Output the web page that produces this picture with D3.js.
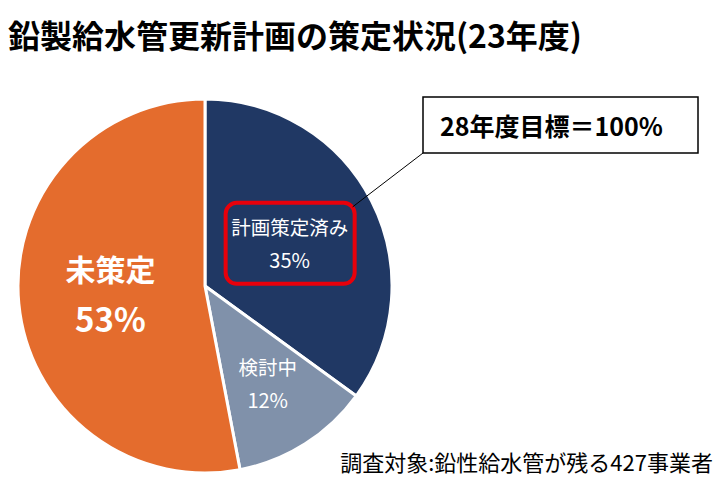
<!doctype html>
<html lang="ja">
<head>
<meta charset="utf-8" />
<title>鉛製給水管更新計画の策定状況</title>
<script src="https://cdn.jsdelivr.net/npm/d3@7"></script>
<style>
  body { margin: 0; background: #fff; }
  svg { display: block; font-family: "Noto Sans CJK JP", "Noto Sans", sans-serif; }
</style>
</head>
<body>
<script>
// data
var categories = ["計画策定済み", "検討中", "未策定"];
var shares = [35, 12, 53];
var sliceColors = ["#203864", "#8091aa", "#e46c2d"];
var titleText = "鉛製給水管更新計画の策定状況(23年度)";
var targetText = "28年度目標＝100%";
var noteText = "調査対象:鉛性給水管が残る427事業者";

var w = 724, h = 483;
var cx = 205, cy = 286, r = 187;

var svg = d3.select("body").append("svg")
  .attr("width", w)
  .attr("height", h);

svg.append("text")
  .attr("x", 8)
  .attr("y", 48)
  .attr("font-size", 32)
  .attr("font-weight", "bold")
  .attr("fill", "#000")
  .text(titleText);

var color = d3.scaleOrdinal().domain(categories).range(sliceColors);

var pie = d3.pie().sort(null).value(function(d) { return d.v; });
var rows = categories.map(function(c, i) { return { name: c, v: shares[i] }; });
var arcs = pie(rows);

var arc = d3.arc().innerRadius(0).outerRadius(r);

var g = svg.append("g").attr("transform", "translate(" + cx + "," + cy + ")");

g.selectAll("path.slice")
  .data(arcs)
  .enter()
  .append("path")
  .attr("class", "slice")
  .attr("d", arc)
  .attr("fill", function(d) { return color(d.data.name); })
  .attr("stroke", "#fff")
  .attr("stroke-width", 3)
  .attr("stroke-linejoin", "round");

// label radius per slice (small slice sits further out)
var labelR = [95, 117, 95];
function labelPos(d, i) {
  var a = (d.startAngle + d.endAngle) / 2;
  return [Math.sin(a) * labelR[i], -Math.cos(a) * labelR[i]];
}

var labels = g.selectAll("g.lbl")
  .data(arcs)
  .enter()
  .append("g")
  .attr("class", "lbl")
  .attr("transform", function(d, i) {
    var p = labelPos(d, i);
    return "translate(" + p[0] + "," + p[1] + ")";
  });

labels.append("text")
  .attr("text-anchor", "middle")
  .attr("fill", "#fff")
  .attr("font-size", function(d, i) { return i === 2 ? 30 : 19.5; })
  .attr("font-weight", function(d, i) { return i === 2 ? "bold" : "normal"; })
  .attr("y", function(d, i) { return i === 2 ? -14 : (i === 0 ? -8 : -10); })
  .text(function(d) { return d.data.name; });

labels.append("text")
  .attr("text-anchor", "middle")
  .attr("fill", "#fff")
  .attr("font-size", function(d, i) { return i === 2 ? 33 : 20; })
  .attr("font-weight", function(d, i) { return i === 2 ? "bold" : "normal"; })
  .attr("y", function(d, i) { return i === 2 ? 37 : (i === 0 ? 25 : 23); })
  .text(function(d) { return d.data.v + "%"; });

// highlight box around the planned slice label
var p0 = labelPos(arcs[0], 0);
g.append("rect")
  .attr("x", p0[0] - 64)
  .attr("y", p0[1] - 40)
  .attr("width", 129)
  .attr("height", 81)
  .attr("rx", 11)
  .attr("fill", "none")
  .attr("stroke", "#e8000b")
  .attr("stroke-width", 4);

// callout
var box = { x: 423, y: 97, w: 275, h: 56 };
svg.append("line")
  .attr("x1", cx + p0[0] + 63)
  .attr("y1", cy + p0[1] - 36)
  .attr("x2", box.x)
  .attr("y2", box.y + box.h)
  .attr("stroke", "#000")
  .attr("stroke-width", 1);

svg.append("rect")
  .attr("x", box.x)
  .attr("y", box.y)
  .attr("width", box.w)
  .attr("height", box.h)
  .attr("fill", "#fff")
  .attr("stroke", "#000")
  .attr("stroke-width", 1.5);

svg.append("text")
  .attr("x", 440)
  .attr("y", 136)
  .attr("font-size", 25)
  .attr("font-weight", "bold")
  .attr("fill", "#000")
  .text(targetText);

svg.append("text")
  .attr("x", 713)
  .attr("y", 471)
  .attr("text-anchor", "end")
  .attr("font-size", 22)
  .attr("fill", "#000")
  .text(noteText);
</script>
</body>
</html>
